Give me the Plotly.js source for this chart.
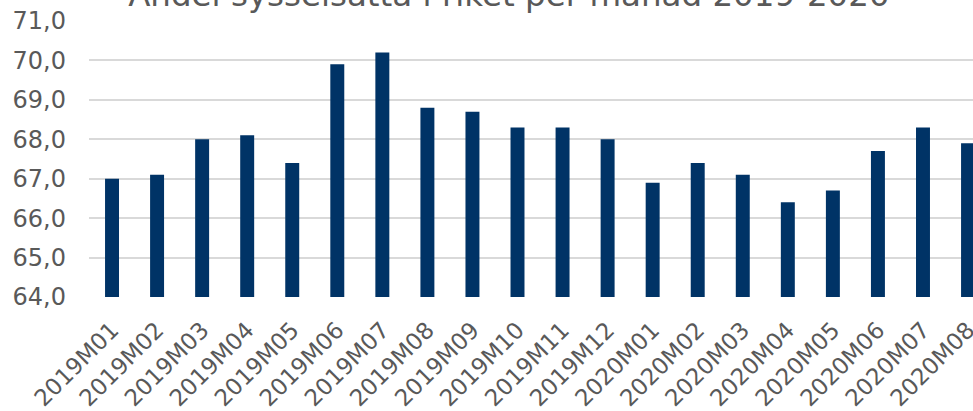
<!DOCTYPE html>
<html>
<head>
<meta charset="utf-8">
<script src="https://cdn.plot.ly/plotly-3.0.1.min.js"></script>
<style>html,body{margin:0;padding:0;background:#fff;}#chart{width:973px;height:411px;}</style>
</head>
<body>
<div id="chart"></div>
<script>
var months = ["2019M01","2019M02","2019M03","2019M04","2019M05","2019M06","2019M07","2019M08","2019M09","2019M10","2019M11","2019M12","2020M01","2020M02","2020M03","2020M04","2020M05","2020M06","2020M07","2020M08"];
var employmentShare = [67.0,67.1,68.0,68.1,67.4,69.9,70.2,68.8,68.7,68.3,68.3,68.0,66.9,67.4,67.1,66.4,66.7,67.7,68.3,67.9];
var yTickValues = [64,65,66,67,68,69,70,71];
var yTickLabels = ["64,0","65,0","66,0","67,0","68,0","69,0","70,0","71,0"];
var chartTitle = "Andel sysselsatta i riket per månad 2019-2020";

var font = "DejaVu Sans, Verdana, sans-serif";
var idx = months.map(function(m, i){ return i; });
var trace = {
  type: "bar",
  x: idx,
  y: employmentShare,
  marker: {color: "#003366"},
  hoverinfo: "y"
};
var layout = {
  width: 973, height: 411,
  margin: {l: 89, r: 0, t: 21, b: 114, pad: 0},
  paper_bgcolor: "#fff", plot_bgcolor: "#fff",
  showlegend: false,
  bargap: 0.69,
  title: {text: chartTitle, font: {family: font, size: 32.5, color: "#595959"},
          x: 0.523, xanchor: "center", yref: "paper", y: 1, yanchor: "bottom", pad: {b: 15, t: 0, l: 0, r: 0}},
  xaxis: {
    range: [-0.511, 19.11],
    tickmode: "array", tickvals: idx, ticktext: months,
    tickangle: -45, tickfont: {family: font, size: 23, color: "#595959"},
    ticklabelstandoff: 14, ticklabeloverflow: "allow",
    showgrid: false, zeroline: false, showline: false, ticks: "", fixedrange: true
  },
  yaxis: {
    range: [64, 71],
    tickmode: "array", tickvals: yTickValues, ticktext: yTickLabels,
    tickfont: {family: font, size: 24, color: "#595959"},
    showgrid: true, gridcolor: "#d9d9d9", gridwidth: 2,
    zeroline: false, showline: false, ticks: "", ticklabelstandoff: 22, fixedrange: true
  }
};
Plotly.newPlot("chart", [trace], layout, {displayModeBar: false, staticPlot: true});
</script>
</body>
</html>
